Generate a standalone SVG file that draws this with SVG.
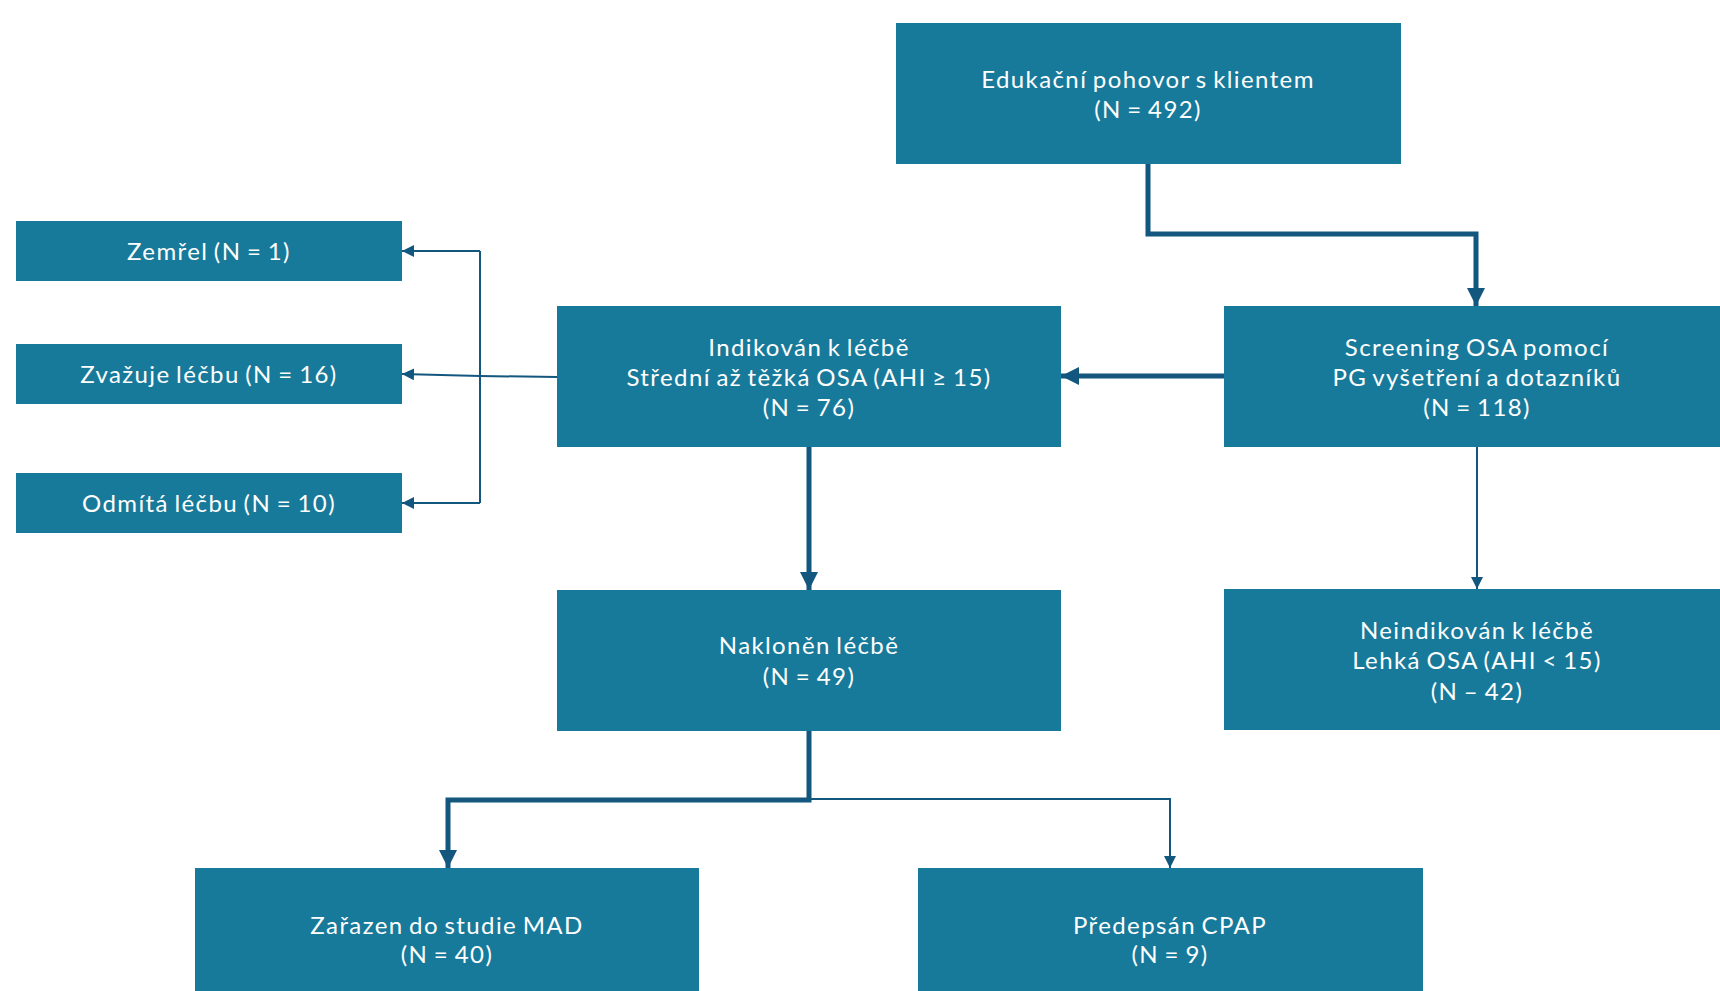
<svg xmlns="http://www.w3.org/2000/svg" width="1720" height="991" viewBox="0 0 1720 991">
<style>
.box{fill:#187a9a}
.t{font-family:Lato,"Noto Sans","Liberation Sans",sans-serif;font-size:24px;fill:#ffffff;text-anchor:middle;letter-spacing:1.4px;word-spacing:-2px}
.thick{fill:none;stroke:#13577f;stroke-width:5}
.thin{fill:none;stroke:#13577f;stroke-width:2}
</style>
<defs>
<marker id="aBig" markerUnits="userSpaceOnUse" markerWidth="18" markerHeight="18" refX="18" refY="9" orient="auto"><path d="M0,0 L18,9 L0,18 z" fill="#13577f"/></marker>
<marker id="aSmall" markerUnits="userSpaceOnUse" markerWidth="12" markerHeight="12" refX="12" refY="6" orient="auto"><path d="M0,0 L12,6 L0,12 z" fill="#13577f"/></marker>
</defs>
<rect width="1720" height="991" fill="#ffffff"/>
<g id="connectors">
<path class="thick" d="M1148,164 V234 H1476 V306" marker-end="url(#aBig)"/>
<path class="thick" d="M1224,376 H1061" marker-end="url(#aBig)"/>
<path class="thin" d="M1477,447 V589" marker-end="url(#aSmall)"/>
<path class="thick" d="M809,447 V590" marker-end="url(#aBig)"/>
<path class="thin" d="M557,377 L480,376 L402,374" marker-end="url(#aSmall)"/>
<path class="thin" d="M480,251 V503"/>
<path class="thin" d="M480,251 H402" marker-end="url(#aSmall)"/>
<path class="thin" d="M480,503 H402" marker-end="url(#aSmall)"/>
<path class="thick" d="M809,731 V800 H448 V868" marker-end="url(#aBig)"/>
<path class="thin" d="M809,799 H1170 V868" marker-end="url(#aSmall)"/>
</g>
<g id="n-edukace">
<rect class="box" x="896" y="23" width="505" height="141"/>
<text class="t" x="1148" y="88">Edukační pohovor s klientem</text>
<text class="t" x="1148" y="118">(N = 492)</text>
</g>
<g id="n-screening">
<rect class="box" x="1224" y="306" width="505" height="141"/>
<text class="t" x="1477" y="356">Screening OSA pomocí</text>
<text class="t" x="1477" y="386">PG vyšetření a dotazníků</text>
<text class="t" x="1477" y="416">(N = 118)</text>
</g>
<g id="n-indikovan">
<rect class="box" x="557" y="306" width="504" height="141"/>
<text class="t" x="809" y="356">Indikován k léčbě</text>
<text class="t" x="809" y="386">Střední až těžká OSA (AHI ≥ 15)</text>
<text class="t" x="809" y="416">(N = 76)</text>
</g>
<g id="n-zemrel">
<rect class="box" x="16" y="221" width="386" height="60"/>
<text class="t" x="209" y="260">Zemřel (N = 1)</text>
</g>
<g id="n-zvazuje">
<rect class="box" x="16" y="344" width="386" height="60"/>
<text class="t" x="209" y="383">Zvažuje léčbu (N = 16)</text>
</g>
<g id="n-odmita">
<rect class="box" x="16" y="473" width="386" height="60"/>
<text class="t" x="209" y="512">Odmítá léčbu (N = 10)</text>
</g>
<g id="n-neindikovan">
<rect class="box" x="1224" y="589" width="505" height="141"/>
<text class="t" x="1477" y="639">Neindikován k léčbě</text>
<text class="t" x="1477" y="669">Lehká OSA (AHI &lt; 15)</text>
<text class="t" x="1477" y="700">(N – 42)</text>
</g>
<g id="n-naklonen">
<rect class="box" x="557" y="590" width="504" height="141"/>
<text class="t" x="809" y="654">Nakloněn léčbě</text>
<text class="t" x="809" y="685">(N = 49)</text>
</g>
<g id="n-mad">
<rect class="box" x="195" y="868" width="504" height="141"/>
<text class="t" x="447" y="934">Zařazen do studie MAD</text>
<text class="t" x="447" y="963">(N = 40)</text>
</g>
<g id="n-cpap">
<rect class="box" x="918" y="868" width="505" height="141"/>
<text class="t" x="1170" y="934">Předepsán CPAP</text>
<text class="t" x="1170" y="963">(N = 9)</text>
</g>
</svg>
